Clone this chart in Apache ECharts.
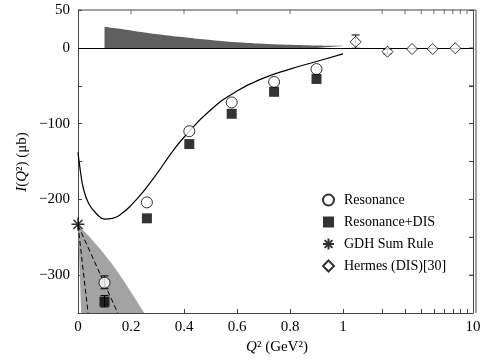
<!DOCTYPE html>
<html>
<head>
<meta charset="utf-8">
<script src="https://cdn.jsdelivr.net/npm/echarts@6/dist/echarts.min.js"></script>
<style>html,body{margin:0;padding:0;background:#fff}#main{width:484px;height:360px}</style>
</head>
<body>
<div id="main"></div>
<script>
// 理论曲线 (Q^2 <= 1)
var curveX = [0, 0.01, 0.02, 0.04, 0.07, 0.1, 0.13, 0.16, 0.2, 0.25, 0.3, 0.35, 0.4, 0.5, 0.6, 0.7, 0.8, 0.9, 1.0];
var curveY = [-138, -165, -185, -205, -219, -226, -225, -220, -208, -188, -165, -140, -118, -82, -57, -40, -28, -18, -8];

// DIS 贡献 (深灰)
var disX = [0.1, 0.15, 0.2, 0.3, 0.4, 0.5, 0.6, 0.7, 0.8, 0.9, 1.0];
var disY = [28, 25.5, 23, 18, 14, 10.5, 7.5, 5.5, 4, 3, 2.5];

// 浅灰带 (边界点)
var bandX = [0, 0.04, 0.09, 0.13, 0.17, 0.21, 0.25, 0.012];
var bandY = [-234, -248, -268, -286, -306, -328, -350, -350];

// 两条虚线
var dash1X = [0, 0.038], dash1Y = [-234, -350];
var dash2X = [0, 0.15], dash2Y = [-234, -350];

// Resonance
var resX = [0.1, 0.26, 0.42, 0.58, 0.74, 0.9];
var resY = [-310, -204, -110, -72, -45, -28];
// Resonance+DIS
var rdisX = [0.1, 0.26, 0.42, 0.58, 0.74, 0.9];
var rdisY = [-335, -225, -127, -87, -58, -41];
// GDH
var gdhX = [0], gdhY = [-233];
// Hermes
var hermesX = [1.25, 2.2, 3.4, 4.9, 7.3];
var hermesY = [8, -5, -1.5, -1.5, -0.5];

// 误差棒
var errX = [0.1, 0.1], errLo = [-318, -342], errHi = [-301, -327];
var hErrX = [1.25, 2.2], hErrLo = [-0.5, -8], hErrHi = [17, -2];

// 刻度
var logTicks = [1, 2, 3, 4, 5, 6, 7, 8, 9, 10];
var logLabels = [1, 10];
var topLinTicks = [0.2, 0.4, 0.6, 0.8];
var topLogTicks = [2, 3, 4, 5, 6, 7, 8, 9];
var rightTicks = [-300, -250, -200, -150, -100, -50, 0];

// 外框 (上边, 右边), 用 grid2 的 0..1 坐标
var frameX = [0, 1, 1];
var frameY = [50, 50, -350];

var FONT = 'Liberation Serif';
var AXC = '#444';

function zip(a, b) {
    var r = [];
    for (var i = 0; i < a.length; i++) r.push([a[i], b[i]]);
    return r;
}
function zip3(a, b, c) {
    var r = [];
    for (var i = 0; i < a.length; i++) r.push([a[i], b[i], c[i]]);
    return r;
}
function at(xs, y) {
    return xs.map(function (x) { return [x, y]; });
}
function minus(v) {
    return String(v).replace('-', '\u2212');
}
function blank() {
    return '';
}

function errRender(params, api) {
    var x = api.value(0);
    var lo = api.coord([x, api.value(1)]);
    var hi = api.coord([x, api.value(2)]);
    var w = 4;
    var st = {stroke: '#000', lineWidth: 1};
    return {type: 'group', children: [
        {type: 'line', shape: {x1: lo[0], y1: lo[1], x2: hi[0], y2: hi[1]}, style: st},
        {type: 'line', shape: {x1: lo[0] - w, y1: lo[1], x2: lo[0] + w, y2: lo[1]}, style: st},
        {type: 'line', shape: {x1: hi[0] - w, y1: hi[1], x2: hi[0] + w, y2: hi[1]}, style: st}
    ]};
}

function bandRender(params, api) {
    if (params.dataIndex !== 0) return null;
    var pts = [];
    for (var i = 0; i < bandX.length; i++) pts.push(api.coord([bandX[i], bandY[i]]));
    return {type: 'polygon', shape: {points: pts}, style: {fill: '#a3a3a3'}};
}

var myChart = echarts.init(document.getElementById('main'));

function aLine() { return {show: true, onZero: false, lineStyle: {color: AXC}}; }
function tickIn() { return {show: true, inside: true, length: 4, lineStyle: {color: AXC}}; }
function logTick() { return {show: true, inside: true, length: 4, lineStyle: {color: AXC}, customValues: logTicks}; }

// 顶部/右侧的刻度用短矩形标记
function tickSeries(xi, yi, data, size, offset) {
    return {
        type: 'scatter', xAxisIndex: xi, yAxisIndex: yi, data: data, silent: true, clip: false,
        symbol: 'rect', symbolSize: size, symbolOffset: offset, z: 6,
        itemStyle: {color: AXC}
    };
}

var option = {
    animation: false,
    textStyle: {fontFamily: FONT},
    grid: [
        {left: 78, top: 10, width: 265, height: 303},
        {left: 343, top: 10, width: 133, height: 303},
        {left: 78, top: 10, width: 398, height: 303}
    ],
    xAxis: [
        {
            type: 'value', gridIndex: 0, min: 0, max: 1, interval: 0.2, position: 'bottom',
            axisLine: aLine(), axisTick: tickIn(), splitLine: {show: false},
            axisLabel: {
                color: '#000', fontFamily: FONT, fontSize: 15, margin: 7,
                formatter: function (v) { return v >= 1 ? '' : String(+v.toFixed(1)); }
            }
        },
        {
            type: 'log', logBase: 10, gridIndex: 1, min: 1, max: 10, position: 'bottom',
            axisLine: aLine(), axisTick: logTick(), splitLine: {show: false},
            axisLabel: {color: '#000', fontFamily: FONT, fontSize: 15, margin: 7, customValues: logLabels}
        },
        {type: 'value', gridIndex: 2, min: 0, max: 1, show: false}
    ],
    yAxis: [
        {
            type: 'value', gridIndex: 0, min: -350, max: 50, interval: 50, position: 'left',
            axisLine: aLine(), axisTick: tickIn(), splitLine: {show: false},
            axisLabel: {
                color: '#000', fontFamily: FONT, fontSize: 15, margin: 8,
                formatter: function (v) { return (v === 50 || v % 100 === 0) && v !== -350 ? minus(v) : ''; }
            }
        },
        {
            type: 'value', gridIndex: 1, min: -350, max: 50, interval: 50, position: 'right',
            axisLine: aLine(), axisTick: tickIn(), splitLine: {show: false},
            axisLabel: {show: true, formatter: blank}
        },
        {type: 'value', gridIndex: 2, min: -350, max: 50, show: false}
    ],
    legend: {
        orient: 'vertical', left: 317, top: 188, itemWidth: 11, itemHeight: 11, itemGap: 8,
        textStyle: {fontFamily: FONT, fontSize: 14, color: '#000', padding: [0, 0, 0, 5]},
        data: ['Resonance', 'Resonance+DIS', 'GDH Sum Rule', 'Hermes (DIS)[30]']
    },
    graphic: [
        {
            type: 'text', x: 22, y: 162, rotation: Math.PI / 2,
            style: {
                text: '{i|I}({i|Q}\u00b2) (\u03bcb)', fontFamily: FONT, fontSize: 15, fill: '#000',
                align: 'center', verticalAlign: 'middle',
                rich: {i: {fontStyle: 'italic', fontFamily: FONT, fontSize: 15}}
            }
        },
        {
            type: 'text', x: 277, y: 347,
            style: {
                text: '{i|Q}\u00b2 (GeV\u00b2)', fontFamily: FONT, fontSize: 15, fill: '#000',
                align: 'center', verticalAlign: 'middle',
                rich: {i: {fontStyle: 'italic', fontFamily: FONT, fontSize: 15}}
            }
        }
    ],
    series: [
        {
            type: 'line', xAxisIndex: 2, yAxisIndex: 2, data: zip(frameX, frameY), clip: false,
            symbol: 'none', silent: true, z: 6, lineStyle: {color: AXC, width: 1}
        },
        {
            type: 'custom', xAxisIndex: 0, yAxisIndex: 0, renderItem: bandRender, clip: true, z: 1,
            data: zip(bandX, bandY), silent: true
        },
        {
            type: 'line', xAxisIndex: 0, yAxisIndex: 0, data: zip(disX, disY), smooth: true,
            symbol: 'none', lineStyle: {width: 0}, areaStyle: {color: '#5f5f5f', opacity: 1}, z: 1,
            markLine: {
                silent: true, symbol: 'none', label: {show: false},
                lineStyle: {color: '#000', width: 1, type: 'solid'}, data: [{yAxis: 0}]
            }
        },
        {
            type: 'line', xAxisIndex: 1, yAxisIndex: 1, data: [], symbol: 'none',
            markLine: {
                silent: true, symbol: 'none', label: {show: false},
                lineStyle: {color: '#000', width: 1, type: 'solid'}, data: [{yAxis: 0}]
            }
        },
        {
            type: 'line', xAxisIndex: 0, yAxisIndex: 0, data: zip(curveX, curveY), smooth: true,
            symbol: 'none', lineStyle: {color: '#000', width: 1.2}, z: 3
        },
        {
            type: 'line', xAxisIndex: 0, yAxisIndex: 0, data: zip(dash1X, dash1Y), symbol: 'none',
            lineStyle: {color: '#000', width: 1, type: [5, 3]}, z: 3
        },
        {
            type: 'line', xAxisIndex: 0, yAxisIndex: 0, data: zip(dash2X, dash2Y), symbol: 'none',
            lineStyle: {color: '#000', width: 1, type: [5, 3]}, z: 3
        },
        {
            type: 'custom', xAxisIndex: 0, yAxisIndex: 0, renderItem: errRender, z: 4,
            data: zip3(errX, errLo, errHi)
        },
        {
            type: 'custom', xAxisIndex: 1, yAxisIndex: 1, renderItem: errRender, z: 4,
            data: zip3(hErrX, hErrLo, hErrHi)
        },
        {
            name: 'Resonance', type: 'scatter', xAxisIndex: 0, yAxisIndex: 0, data: zip(resX, resY),
            symbol: 'circle', symbolSize: 11, z: 5,
            itemStyle: {color: '#fff', borderColor: '#000', borderWidth: 1}
        },
        {
            name: 'Resonance+DIS', type: 'scatter', xAxisIndex: 0, yAxisIndex: 0, data: zip(rdisX, rdisY),
            symbol: 'rect', symbolSize: 10, z: 5,
            itemStyle: {color: '#000'}
        },
        {
            name: 'GDH Sum Rule', type: 'scatter', xAxisIndex: 0, yAxisIndex: 0, data: zip(gdhX, gdhY),
            symbol: 'path://M10 0L10 20M0 10L20 10M3 3L17 17M17 3L3 17', symbolSize: 13, z: 5, clip: false,
            itemStyle: {color: 'rgba(0,0,0,0)', borderColor: '#000', borderWidth: 1.5}
        },
        {
            name: 'Hermes (DIS)[30]', type: 'scatter', xAxisIndex: 1, yAxisIndex: 1, data: zip(hermesX, hermesY),
            symbol: 'diamond', symbolSize: 11, z: 5,
            itemStyle: {color: '#fff', borderColor: '#000', borderWidth: 1}
        },
        tickSeries(0, 0, at(topLinTicks, 50), [1, 4], [0, 2]),
        tickSeries(1, 1, at(topLogTicks, 50), [1, 4], [0, 2]),
        tickSeries(1, 1, rightTicks.map(function (y) { return [10, y]; }), [4, 1], [-2, 0])
    ]
};

myChart.setOption(option);
</script>
</body>
</html>
